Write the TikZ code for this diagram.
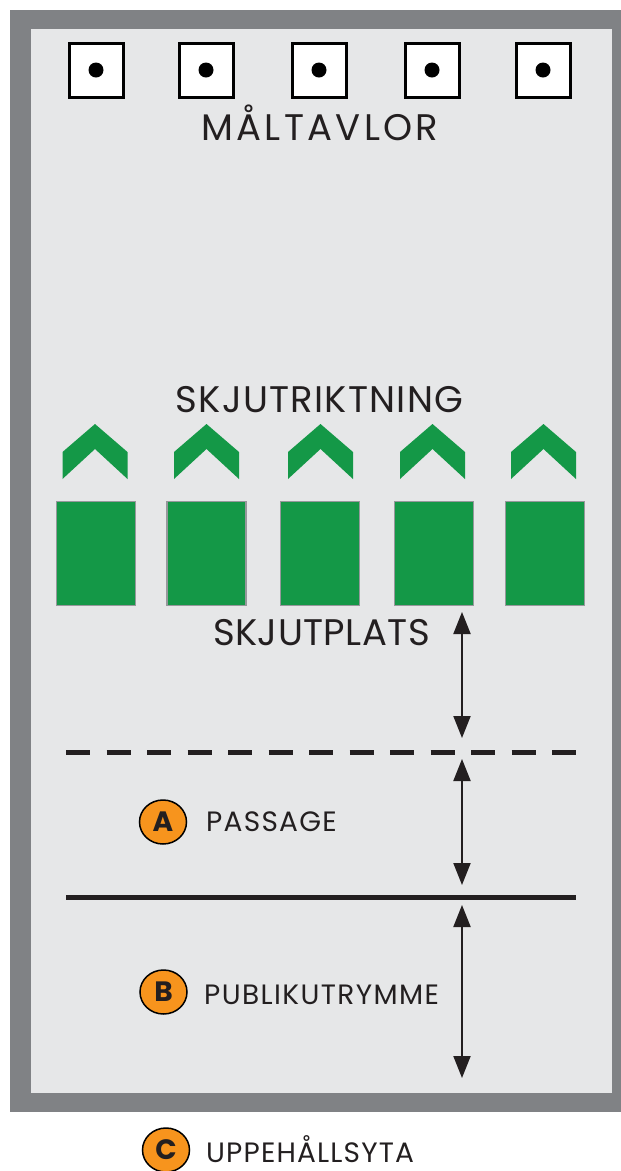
\documentclass[tikz,border=0pt]{standalone}
\usepackage{fontspec}
\setmainfont{Poppins}
\usetikzlibrary{arrows.meta,shapes.geometric}
\definecolor{frame}{RGB}{128,130,133}
\definecolor{bg}{RGB}{230,231,232}
\definecolor{grn}{RGB}{20,152,71}
\definecolor{grnedge}{RGB}{150,152,155}
\definecolor{org}{RGB}{247,148,29}
\definecolor{ink}{RGB}{35,31,32}
\newcommand{\lsp}[1]{\addfontfeature{LetterSpace=#1}}
\begin{document}
\begin{tikzpicture}[x=1pt,y=-1pt,
  target/.style={draw=black, line width=3pt, fill=white, minimum size=54pt, inner sep=0pt},
  lane/.style={draw=grnedge, line width=1.5pt, fill=grn, minimum width=79pt, minimum height=104pt, inner sep=0pt},
  bigtext/.style={text=ink, font=\fontsize{37}{40}\selectfont, anchor=base, inner sep=0pt},
  zonetext/.style={text=ink, font=\fontsize{28}{30}\selectfont, anchor=base west, inner sep=0pt},
  badge/.style={ellipse, draw=black, line width=1.5pt, fill=org, minimum width=47pt, minimum height=44pt, inner sep=0pt, text=ink, font=\bfseries\fontsize{28}{30}\selectfont},
  dimarrow/.style={{Triangle[width=17pt,length=22pt]}-{Triangle[width=17pt,length=22pt]}, line width=2pt, draw=ink},
  boundary/.style={draw=ink, line width=5pt},
]
\useasboundingbox (0,0) rectangle (621,1171);
% frame and field
\fill[frame] (10,10) rectangle (621,1112);
\fill[bg] (31,29) rectangle (612,1093);

% targets
\foreach \i/\x in {1/96,2/206,3/319,4/432,5/543}{
  \node[target] (t\i) at (\x,70) {};
  \fill[black] (t\i.center) circle (7.5pt);
}
\node[bigtext] (maltavlor) at (320,140) {\lsp{9}MÅLTAVLOR};

% shooting direction
\node[bigtext] (riktning) at (319.5,412) {\lsp{3.4}SKJUTRIKTNING};
\foreach \x in {95,206.5,320.5,432.5,543.5}{
  \fill[grn] (\x-32.5,452) -- (\x,424) -- (\x+32.5,452) -- (\x+32.5,479) -- (\x,449) -- (\x-32.5,479) -- cycle;
}

% shooting lanes
\foreach \i/\x in {1/96,2/206.5,3/320,4/434,5/545}{
  \node[lane] (l\i) at (\x,553.5) {};
}
\node[bigtext] (skjutplats) at (321.5,645) {\lsp{1.2}SKJUTPLATS};

% boundaries
\coordinate (dL) at (66,752);
\coordinate (dR) at (576,752);
\coordinate (sL) at (66,897);
\coordinate (sR) at (576,897);
\draw[boundary, dash pattern=on 24pt off 16.5pt] (dL) -- (dR);
\draw[boundary] (sL) -- (sR);

% dimension arrows
\coordinate (a1t) at (462,612);
\coordinate (a1b) at (462,738);
\coordinate (a2t) at (462,759);
\coordinate (a2b) at (462,885);
\coordinate (a3t) at (462,905);
\coordinate (a3b) at (462,1078);
\draw[dimarrow] (a1t) -- (a1b);
\draw[dimarrow] (a2t) -- (a2b);
\draw[dimarrow] (a3t) -- (a3b);

% zones
\node[badge] (bA) at (163,822) {A};
\node[zonetext] (passage) at (206,831) {\lsp{4.5}PASSAGE};
\node[badge] (bB) at (163.5,992) {B};
\node[zonetext] (publik) at (204,1004) {\lsp{5}PUBLIKUTRYMME};
\node[badge] (bC) at (166,1150) {C};
\node[zonetext] (uppehall) at (206,1162) {\lsp{4.2}UPPEHÅLLSYTA};
\end{tikzpicture}
\end{document}
